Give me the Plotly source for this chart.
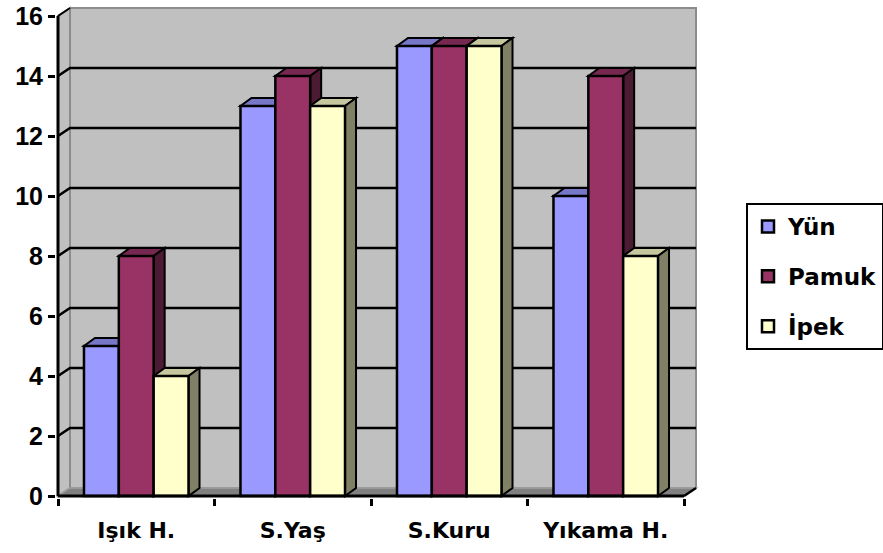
import plotly.graph_objects as go

# ---- data -------------------------------------------------------------
categories = ["Işık H.", "S.Yaş", "S.Kuru", "Yıkama H."]
series_names = ["Yün", "Pamuk", "İpek"]
yun = [5, 13, 15, 10]
pamuk = [8, 14, 15, 14]
ipek = [4, 13, 15, 8]
y_ticks = [0, 2, 4, 6, 8, 10, 12, 14, 16]

series = [yun, pamuk, ipek]
colors = ["#9999FF", "#993366", "#FFFFCC"]

# ---- geometry of the pseudo-3D box -------------------------------------
CAT_PX = 156.5          # pixels per category on the front plane
UNIT_PX = 30.0          # pixels per value unit
WALL_DX, WALL_DY = 12, 8
BAR_DX, BAR_DY = 11, 8
GROUP_W = 0.668         # width of a bar cluster, in category units

wdx, wdy = WALL_DX / CAT_PX, WALL_DY / UNIT_PX
bdx, bdy = BAR_DX / CAT_PX, BAR_DY / UNIT_PX
YMAX = y_ticks[-1]
xs = list(range(len(categories)))
x0, x1 = -0.5, len(categories) - 0.5

PAD_L, PAD_B, PAD_T, PAD_R = 2, 2, 3, 3
x_range = [x0 - PAD_L / CAT_PX, x1 + wdx + PAD_R / CAT_PX]
y_range = [-PAD_B / UNIT_PX, YMAX + wdy + PAD_T / UNIT_PX]


def shade(hex_color, f):
    h = hex_color.lstrip("#")
    r, g, b = (int(h[k:k + 2], 16) for k in (0, 2, 4))
    return "#%02X%02X%02X" % (round(r * f), round(g * f), round(b * f))


shapes = []


def poly(pts, fill, line_color, width, closed=True, layer="below"):
    path = "M " + " L ".join(f"{px},{py}" for px, py in pts) + (" Z" if closed else "")
    shapes.append(dict(type="path", path=path, xref="x", yref="y",
                       fillcolor=fill if fill else "rgba(0,0,0,0)",
                       line=dict(color=line_color, width=width), layer=layer))


# walls and floor
poly([(x0 + wdx, wdy), (x1 + wdx, wdy), (x1 + wdx, YMAX + wdy), (x0 + wdx, YMAX + wdy)],
     "#C0C0C0", "#8C8C8C", 2)
poly([(x0, 0), (x0, YMAX), (x0 + wdx, YMAX + wdy), (x0 + wdx, wdy)],
     "#C0C0C0", "#8C8C8C", 2)
poly([(x0, 0), (x1, 0), (x1 + wdx, wdy), (x0 + wdx, wdy)],
     "#808080", "#A0A0A0", 1.5)

# gridlines running over the left wall and along the back wall
for v in y_ticks[1:-1]:
    poly([(x0, v), (x0 + wdx, v + wdy), (x1 + wdx, v + wdy)], None, "black", 2.5, closed=False)

# top and side faces of every column
bw = GROUP_W / len(series)
for j, vals in enumerate(series):
    top_c = shade(colors[j], 0.78)
    side_c = shade(colors[j], 0.5)
    for i, v in enumerate(vals):
        L = xs[i] - GROUP_W / 2 + j * bw
        R = L + bw
        poly([(L, v), (R, v), (R + bdx, v + bdy), (L + bdx, v + bdy)], top_c, "black", 2)
        poly([(R, 0), (R, v), (R + bdx, v + bdy), (R + bdx, bdy)], side_c, "black", 2)

# front axis lines
poly([(x0, 0), (x0, YMAX)], None, "black", 3, closed=False, layer="above")
poly([(x0, 0), (x1, 0)], None, "black", 3, closed=False, layer="above")
poly([(x0, YMAX), (x0 + wdx, YMAX + wdy)], None, "black", 2, closed=False, layer="above")
poly([(x1, 0), (x1 + wdx, wdy)], None, "black", 2.5, closed=False, layer="above")

fig = go.Figure()
for name, vals, c in zip(series_names, series, colors):
    fig.add_trace(go.Bar(
        x=xs, y=vals, name=name, legendgroup=name,
        marker=dict(color=c, line=dict(color="black", width=2.5)),
    ))

W, H = 883, 553
left_px = 58 - PAD_L
right_px = 58 + CAT_PX * len(categories) + WALL_DX + PAD_R
bottom_px = 496 + PAD_B
top_px = 496 - UNIT_PX * YMAX - WALL_DY - PAD_T

fig.update_layout(
    width=W, height=H, autosize=False,
    margin=dict(l=left_px, r=W - right_px, t=top_px, b=H - bottom_px, pad=0, autoexpand=False),
    paper_bgcolor="white", plot_bgcolor="white",
    barmode="group", bargap=1 - GROUP_W, bargroupgap=0,
    shapes=shapes,
    showlegend=True,
    legend=dict(
        x=(746 - left_px) / (right_px - left_px), y=(bottom_px - 203) / (bottom_px - top_px),
        xanchor="left", yanchor="top",
        bordercolor="black", borderwidth=2, bgcolor="white",
        font=dict(family="DejaVu Sans", size=23, weight="bold", color="black"),
        tracegroupgap=17, traceorder="grouped",
    ),
    xaxis=dict(
        range=x_range, tickmode="array", tickvals=xs, ticktext=categories,
        ticks="outside", ticklen=13, tickcolor="rgba(0,0,0,0)",
        minor=dict(tickmode="array", tickvals=[x0 + k for k in range(len(categories) + 1)],
                   ticks="outside", ticklen=7, tickwidth=2.5, tickcolor="black"),
        tickfont=dict(family="DejaVu Sans", size=22, weight="bold", color="black"),
        showgrid=False, zeroline=False, showline=False, fixedrange=True,
    ),
    yaxis=dict(
        range=y_range, tickmode="array", tickvals=y_ticks,
        ticks="outside", ticklen=7, tickwidth=2.5, tickcolor="black",
        ticklabeloverflow="allow",
        tickfont=dict(family="Liberation Sans", size=25, weight="bold", color="black"),
        showgrid=False, zeroline=False, showline=False, fixedrange=True,
    ),
)

fig.write_html("out.html")
